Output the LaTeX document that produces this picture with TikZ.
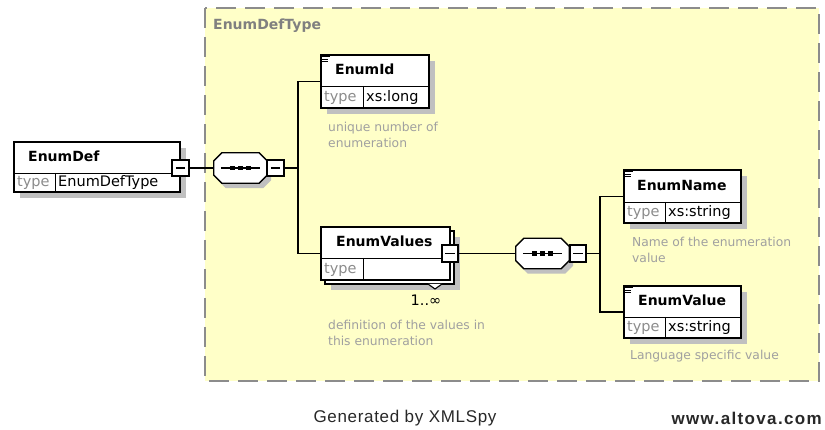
\documentclass[tikz,border=0pt]{standalone}
\usepackage{fontspec}
\setmainfont{DejaVu Sans}
\newfontfamily\footfont{Liberation Sans}
\usetikzlibrary{calc}
\definecolor{bgyellow}{RGB}{255,255,200}
\definecolor{dashgray}{RGB}{140,140,140}
\definecolor{shadowgray}{RGB}{192,192,192}
\definecolor{typegray}{RGB}{140,140,140}
\definecolor{annotgray}{RGB}{160,160,160}
\definecolor{labelgray}{RGB}{128,128,128}
\definecolor{footgray}{RGB}{40,40,40}
\newcommand\octpath[1]{([xshift=8pt]#1.north west) -- ([xshift=-8pt]#1.north east) -- ([yshift=-8pt]#1.north east) -- ([yshift=8pt]#1.south east) -- ([xshift=-8pt]#1.south east) -- ([xshift=8pt]#1.south west) -- ([yshift=8pt]#1.south west) -- ([yshift=-8pt]#1.north west) -- cycle}
\newcommand\xsdseq[3]{%
  \node[seqbox] (#1s) at (#2+4,#3+5) {};
  \fill[shadowgray] \octpath{#1s};
  \node[seqbox] (#1) at (#2,#3) {};
  \draw[line width=1.3pt, fill=white] \octpath{#1};
  \draw[line width=1.2pt] ([xshift=7pt]#1.west) -- ([xshift=-7pt]#1.east);
  \foreach \d in {-8,0,8} \fill ($(#1.center)+(\d-2.2,-2.2)$) rectangle +(4.4,4.4);
}
\newcommand\annicon[1]{%
  \draw[line width=0.8pt] ([xshift=2pt,yshift=-2.5pt]#1.north west) -- +(8pt,0pt);
  \draw[line width=0.8pt] ([xshift=2pt,yshift=-4.8pt]#1.north west) -- +(6pt,0pt);
  \draw[line width=0.8pt] ([xshift=2pt,yshift=-7.1pt]#1.north west) -- +(6pt,0pt);
}
\begin{document}
\begin{tikzpicture}[x=1pt,y=-1pt,
  box/.style={draw=black, line width=1.3pt, fill=white, inner sep=0pt},
  seqbox/.style={inner sep=0pt, minimum width=53pt, minimum height=30pt},
  minus/.style={draw=black, line width=1.8pt, fill=white, minimum size=16.5pt, inner sep=0pt,
    path picture={\draw[line width=1.2pt] ([xshift=3.5pt]path picture bounding box.west) -- ([xshift=-3.5pt]path picture bounding box.east);}},
  conn/.style={line width=1.3pt, draw=black},
  elname/.style={font=\fontsize{14}{16}\selectfont\bfseries, anchor=west, inner sep=0pt, text height=11pt, text depth=2pt},
  typelbl/.style={font=\fontsize{14.5}{16}\selectfont, text=typegray, anchor=west, inner sep=0pt, text height=11pt, text depth=2pt},
  typeval/.style={font=\fontsize{14.5}{16}\selectfont, anchor=west, inner sep=0pt, text height=11pt, text depth=2pt},
  annot/.style={font=\fontsize{12.3}{16}\selectfont, text=annotgray, anchor=west, inner sep=0pt, align=left},
]
\useasboundingbox[fill=white] (0,0) rectangle (825,430);

% complex type frame
\draw[fill=bgyellow, draw=dashgray, line width=1.6pt, dash pattern=on 20pt off 9pt] (205,8) rectangle (819,381);
\node[font=\fontsize{14}{16}\selectfont\bfseries, text=labelgray, anchor=west, inner sep=0pt] (ctlabel) at (213,26) {EnumDefType};

% EnumDef
\fill[shadowgray] (20,148) rectangle (186,198);
\node[box, minimum width=166pt, minimum height=50pt] (enumdef) at (97,167) {};
\draw[line width=0.9pt] (14,173) -- (180,173);
\draw[line width=0.9pt] (55,173) -- (55,192);
\node[elname] (enumdefname) at (28,157.5) {EnumDef};
\node[typelbl] (enumdeftl) at (17,182.5) {type};
\node[typeval] (enumdeftv) at (58,182.5) {EnumDefType};
\node[minus] (mdef) at (180.5,168) {};

% sequence 1
\xsdseq{seq1}{240.5}{168}
\node[minus] (ms1) at (275.5,168) {};

% EnumId
\fill[shadowgray] (327,61) rectangle (435,114);
\node[box, minimum width=108pt, minimum height=53pt] (enumid) at (375,81.5) {};
\draw[line width=0.9pt] (321,86) -- (429,86);
\draw[line width=0.9pt] (363,86) -- (363,108);
\annicon{enumid}
\node[elname] (enumidname) at (335,70.5) {EnumId};
\node[typelbl] (enumidtl) at (324,97) {type};
\node[typeval] (enumidtv) at (366,97) {xs:long};
\node[annot] (enumidann) at (328,135) {unique number of\\enumeration};

% EnumValues
\fill[shadowgray] (331,237) rectangle (460,290);
\node[box, minimum width=129pt, minimum height=53pt] (enumvaluesback) at (389.5,257.5) {};
\draw[line width=1.1pt, fill=white] (428,284) -- (435,289) -- (442,284);
\node[box, minimum width=129pt, minimum height=53pt] (enumvalues) at (385.5,253.5) {};
\draw[line width=0.9pt] (321,258) -- (450,258);
\draw[line width=0.9pt] (363,258) -- (363,280);
\node[elname] (enumvaluesname) at (336,242.5) {EnumValues};
\node[typelbl] (enumvaluestl) at (324,269) {type};
\node[minus] (mvals) at (450,253.5) {};
\node[font=\fontsize{14.5}{16}\selectfont, inner sep=0pt] (card) at (426,300) {1..∞};
\node[annot] (enumvaluesann) at (328,333) {definition of the values in\\this enumeration};

% sequence 2
\xsdseq{seq2}{542.5}{253.5}
\node[minus] (ms2) at (578,253.5) {};

% EnumName
\fill[shadowgray] (630,176) rectangle (747,229);
\node[box, minimum width=117pt, minimum height=53pt] (enumname) at (682.5,196.5) {};
\draw[line width=0.9pt] (624,202) -- (741,202);
\draw[line width=0.9pt] (665,202) -- (665,223);
\annicon{enumname}
\node[elname] (enumnamename) at (637,186) {EnumName};
\node[typelbl] (enumnametl) at (627,212.5) {type};
\node[typeval] (enumnametv) at (668,212.5) {xs:string};
\node[annot] (enumnameann) at (632,250) {Name of the enumeration\\value};

% EnumValue
\fill[shadowgray] (630,292) rectangle (747,344);
\node[box, minimum width=117pt, minimum height=52pt] (enumvalue) at (682.5,312) {};
\draw[line width=0.9pt] (624,317) -- (741,317);
\draw[line width=0.9pt] (665,317) -- (665,338);
\annicon{enumvalue}
\node[elname] (enumvaluename) at (638,301.5) {EnumValue};
\node[typelbl] (enumvaluetl) at (627,327.5) {type};
\node[typeval] (enumvaluetv) at (668,327.5) {xs:string};
\node[annot] (enumvalueann) at (630,356) {Language specific value};

% connectors
\coordinate (b1) at (298,168);
\coordinate (b2) at (600,253.5);
\draw[conn] (mdef.east) -- (seq1.west);
\draw[conn] (ms1.east) -- (b1);
\draw[conn] (enumid.west) -| (b1) |- (enumvalues.west);
\draw[conn] (mvals.east) -- (seq2.west);
\draw[conn] (ms2.east) -- (b2);
\draw[conn] (enumname.west) -| (b2) |- (enumvalue.west);

% footer
\node[font=\footfont\fontsize{17}{20}\selectfont\addfontfeature{LetterSpace=4}, text=footgray, inner sep=0pt] (gen) at (405,418) {Generated by XMLSpy};
\node[font=\footfont\fontsize{17}{20}\selectfont\bfseries\addfontfeature{LetterSpace=8}, text=footgray, anchor=east, inner sep=0pt] (alt) at (822,418) {www.altova.com};
\end{tikzpicture}
\end{document}
